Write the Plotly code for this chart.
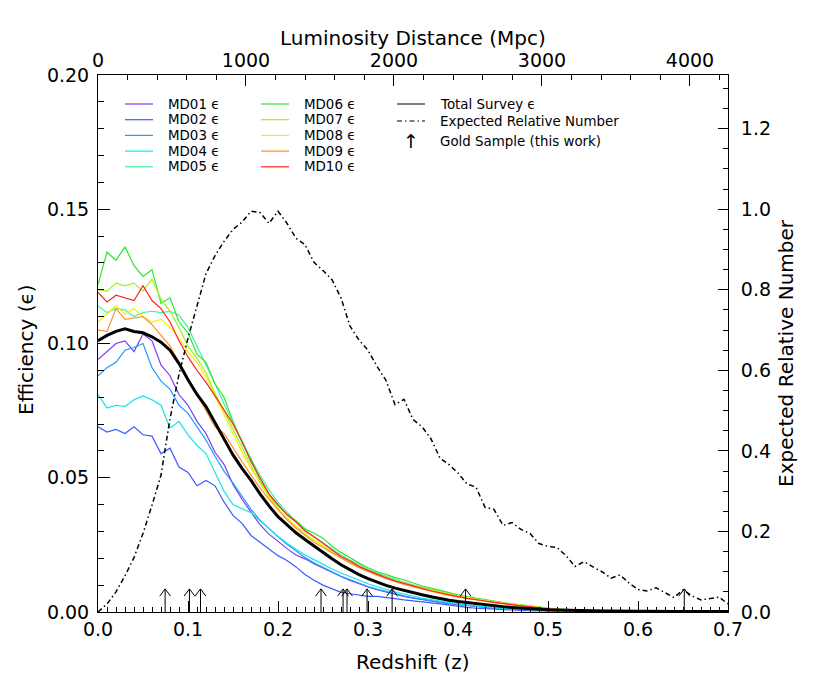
import numpy as np
import plotly.graph_objects as go

# ---------------- data ----------------
# redshift grid: 0.00 ... 0.70 in steps of 0.01
z = np.round(np.arange(71) * 0.01, 2)

md01 = [0.0940, 0.0970, 0.1000, 0.1010, 0.0970, 0.1035, 0.1010, 0.0920, 0.0880, 0.0810,
        0.0770, 0.0710, 0.0665, 0.0595, 0.0550, 0.0475, 0.0420, 0.0372, 0.0325, 0.0290,
        0.0262, 0.0236, 0.0212, 0.0198, 0.0180, 0.0163, 0.0147, 0.0132, 0.0118, 0.0104,
        0.0093, 0.0083, 0.0074, 0.0065, 0.0058, 0.0052, 0.0046, 0.0041, 0.0036, 0.0031,
        0.0027, 0.0023, 0.0020, 0.0017, 0.0014, 0.0012, 0.0010, 0.0008, 0.0007, 0.0006,
        0.0005, 0.0005, 0.0004, 0.0004, 0.0003, 0.0003, 0.0003, 0.0003, 0.0002, 0.0002,
        0.0002, 0.0002, 0.0002, 0.0002, 0.0001, 0.0001, 0.0001, 0.0001, 0.0001, 0.0001, 0.0001]
md02 = [0.0690, 0.0670, 0.0680, 0.0665, 0.0690, 0.0660, 0.0655, 0.0590, 0.0610, 0.0540,
        0.0520, 0.0470, 0.0490, 0.0470, 0.0410, 0.0360, 0.0330, 0.0285, 0.0260, 0.0235,
        0.0210, 0.0192, 0.0168, 0.0140, 0.0118, 0.0100, 0.0085, 0.0073, 0.0068, 0.0062,
        0.0058, 0.0058, 0.0055, 0.0050, 0.0045, 0.0042, 0.0037, 0.0034, 0.0030, 0.0025,
        0.0020, 0.0017, 0.0014, 0.0012, 0.0010, 0.0008, 0.0007, 0.0006, 0.0005, 0.0004,
        0.0004, 0.0003, 0.0003, 0.0003, 0.0002, 0.0002, 0.0002, 0.0002, 0.0002, 0.0001,
        0.0001, 0.0001, 0.0001, 0.0001, 0.0001, 0.0001, 0.0001, 0.0001, 0.0001, 0.0001, 0.0001]
md03 = [0.0880, 0.0910, 0.0930, 0.0975, 0.0985, 0.1000, 0.0910, 0.0860, 0.0830, 0.0770,
        0.0740, 0.0690, 0.0640, 0.0580, 0.0525, 0.0480, 0.0430, 0.0382, 0.0342, 0.0310,
        0.0280, 0.0252, 0.0226, 0.0203, 0.0183, 0.0165, 0.0150, 0.0133, 0.0120, 0.0106,
        0.0095, 0.0085, 0.0076, 0.0068, 0.0060, 0.0053, 0.0047, 0.0042, 0.0037, 0.0032,
        0.0028, 0.0024, 0.0021, 0.0018, 0.0015, 0.0013, 0.0011, 0.0009, 0.0008, 0.0007,
        0.0006, 0.0005, 0.0004, 0.0004, 0.0003, 0.0003, 0.0003, 0.0002, 0.0002, 0.0002,
        0.0002, 0.0002, 0.0001, 0.0001, 0.0001, 0.0001, 0.0001, 0.0001, 0.0001, 0.0001, 0.0001]
md04 = [0.0810, 0.0760, 0.0770, 0.0765, 0.0790, 0.0805, 0.0790, 0.0770, 0.0685, 0.0710,
        0.0660, 0.0620, 0.0590, 0.0520, 0.0450, 0.0400, 0.0385, 0.0370, 0.0340, 0.0310,
        0.0282, 0.0256, 0.0234, 0.0212, 0.0195, 0.0176, 0.0160, 0.0145, 0.0131, 0.0117,
        0.0105, 0.0094, 0.0084, 0.0075, 0.0067, 0.0059, 0.0052, 0.0046, 0.0040, 0.0035,
        0.0030, 0.0026, 0.0022, 0.0019, 0.0016, 0.0013, 0.0011, 0.0009, 0.0008, 0.0007,
        0.0006, 0.0005, 0.0005, 0.0004, 0.0004, 0.0003, 0.0003, 0.0003, 0.0002, 0.0002,
        0.0002, 0.0002, 0.0002, 0.0002, 0.0001, 0.0001, 0.0001, 0.0001, 0.0001, 0.0001, 0.0001]
md05 = [0.1140, 0.1115, 0.1130, 0.1125, 0.1100, 0.1115, 0.1120, 0.1115, 0.1120, 0.1105,
        0.1060, 0.0990, 0.0925, 0.0850, 0.0775, 0.0705, 0.0635, 0.0570, 0.0510, 0.0455,
        0.0408, 0.0370, 0.0336, 0.0306, 0.0280, 0.0258, 0.0234, 0.0212, 0.0194, 0.0175,
        0.0159, 0.0145, 0.0133, 0.0121, 0.0111, 0.0101, 0.0092, 0.0083, 0.0075, 0.0067,
        0.0060, 0.0054, 0.0048, 0.0043, 0.0038, 0.0033, 0.0029, 0.0025, 0.0021, 0.0017,
        0.0013, 0.0010, 0.0008, 0.0007, 0.0006, 0.0005, 0.0005, 0.0004, 0.0004, 0.0003,
        0.0003, 0.0003, 0.0002, 0.0002, 0.0002, 0.0002, 0.0002, 0.0002, 0.0002, 0.0002, 0.0002]
md06 = [0.1220, 0.1340, 0.1310, 0.1360, 0.1290, 0.1250, 0.1275, 0.1150, 0.1170, 0.1080,
        0.1040, 0.0960, 0.0930, 0.0850, 0.0800, 0.0710, 0.0630, 0.0570, 0.0490, 0.0435,
        0.0395, 0.0365, 0.0340, 0.0310, 0.0293, 0.0275, 0.0245, 0.0222, 0.0203, 0.0182,
        0.0165, 0.0150, 0.0140, 0.0128, 0.0120, 0.0107, 0.0097, 0.0089, 0.0080, 0.0071,
        0.0064, 0.0057, 0.0051, 0.0046, 0.0040, 0.0035, 0.0030, 0.0026, 0.0021, 0.0017,
        0.0013, 0.0011, 0.0009, 0.0008, 0.0007, 0.0006, 0.0006, 0.0005, 0.0004, 0.0004,
        0.0003, 0.0003, 0.0003, 0.0002, 0.0002, 0.0002, 0.0002, 0.0002, 0.0002, 0.0002, 0.0002]
md07 = [0.1200, 0.1195, 0.1225, 0.1215, 0.1225, 0.1195, 0.1240, 0.1165, 0.1120, 0.1060,
        0.0990, 0.0945, 0.0890, 0.0815, 0.0750, 0.0680, 0.0610, 0.0545, 0.0480, 0.0430,
        0.0382, 0.0348, 0.0318, 0.0290, 0.0268, 0.0245, 0.0222, 0.0202, 0.0185, 0.0166,
        0.0151, 0.0138, 0.0126, 0.0116, 0.0106, 0.0098, 0.0089, 0.0081, 0.0073, 0.0065,
        0.0058, 0.0052, 0.0047, 0.0042, 0.0037, 0.0032, 0.0028, 0.0024, 0.0020, 0.0016,
        0.0012, 0.0010, 0.0008, 0.0007, 0.0006, 0.0005, 0.0005, 0.0004, 0.0004, 0.0003,
        0.0003, 0.0003, 0.0003, 0.0002, 0.0002, 0.0002, 0.0002, 0.0002, 0.0002, 0.0002, 0.0002]
md08 = [0.1080, 0.1110, 0.1140, 0.1110, 0.1130, 0.1100, 0.1080, 0.1090, 0.1060, 0.1020,
        0.0970, 0.0930, 0.0875, 0.0805, 0.0735, 0.0660, 0.0595, 0.0535, 0.0480, 0.0430,
        0.0385, 0.0350, 0.0320, 0.0292, 0.0268, 0.0246, 0.0222, 0.0202, 0.0188, 0.0168,
        0.0152, 0.0140, 0.0127, 0.0117, 0.0107, 0.0098, 0.0090, 0.0082, 0.0074, 0.0066,
        0.0060, 0.0054, 0.0048, 0.0043, 0.0038, 0.0033, 0.0029, 0.0025, 0.0021, 0.0017,
        0.0013, 0.0010, 0.0008, 0.0007, 0.0006, 0.0005, 0.0005, 0.0004, 0.0004, 0.0003,
        0.0003, 0.0003, 0.0003, 0.0002, 0.0002, 0.0002, 0.0002, 0.0002, 0.0002, 0.0002, 0.0002]
md09 = [0.1050, 0.1045, 0.1130, 0.1090, 0.1095, 0.1100, 0.1070, 0.1030, 0.0990, 0.0930,
        0.0870, 0.0810, 0.0745, 0.0690, 0.0665, 0.0610, 0.0560, 0.0510, 0.0462, 0.0420,
        0.0380, 0.0343, 0.0312, 0.0285, 0.0260, 0.0240, 0.0220, 0.0200, 0.0182, 0.0165,
        0.0150, 0.0137, 0.0124, 0.0113, 0.0103, 0.0094, 0.0085, 0.0077, 0.0069, 0.0062,
        0.0056, 0.0050, 0.0045, 0.0040, 0.0035, 0.0031, 0.0027, 0.0023, 0.0019, 0.0016,
        0.0012, 0.0010, 0.0008, 0.0007, 0.0006, 0.0005, 0.0004, 0.0004, 0.0003, 0.0003,
        0.0003, 0.0003, 0.0002, 0.0002, 0.0002, 0.0002, 0.0002, 0.0002, 0.0002, 0.0002, 0.0002]
md10 = [0.1190, 0.1155, 0.1180, 0.1170, 0.1160, 0.1215, 0.1160, 0.1130, 0.1080, 0.1010,
        0.0950, 0.0900, 0.0855, 0.0805, 0.0750, 0.0700, 0.0635, 0.0560, 0.0500, 0.0440,
        0.0400, 0.0362, 0.0335, 0.0302, 0.0280, 0.0255, 0.0232, 0.0207, 0.0190, 0.0170,
        0.0155, 0.0140, 0.0128, 0.0116, 0.0106, 0.0096, 0.0088, 0.0079, 0.0071, 0.0064,
        0.0057, 0.0051, 0.0045, 0.0041, 0.0036, 0.0031, 0.0027, 0.0023, 0.0019, 0.0015,
        0.0012, 0.0009, 0.0008, 0.0006, 0.0006, 0.0005, 0.0004, 0.0004, 0.0004, 0.0003,
        0.0003, 0.0003, 0.0003, 0.0002, 0.0002, 0.0002, 0.0002, 0.0002, 0.0002, 0.0002, 0.0002]
total = [0.1010, 0.1030, 0.1045, 0.1055, 0.1045, 0.1040, 0.1025, 0.1005, 0.0975, 0.0925,
         0.0865, 0.0810, 0.0765, 0.0705, 0.0645, 0.0585, 0.0535, 0.0490, 0.0440, 0.0395,
         0.0355, 0.0325, 0.0295, 0.0270, 0.0245, 0.0222, 0.0198, 0.0176, 0.0156, 0.0139,
         0.0124, 0.0111, 0.0099, 0.0089, 0.0080, 0.0072, 0.0064, 0.0057, 0.0050, 0.0044,
         0.0039, 0.0035, 0.0030, 0.0026, 0.0023, 0.0020, 0.0017, 0.0014, 0.0012, 0.0010,
         0.0008, 0.0007, 0.0006, 0.0005, 0.0005, 0.0004, 0.0004, 0.0004, 0.0003, 0.0003,
         0.0003, 0.0003, 0.0002, 0.0002, 0.0002, 0.0002, 0.0002, 0.0002, 0.0002, 0.0002, 0.0002]
expected = [0.000, 0.020, 0.050, 0.090, 0.135, 0.195, 0.265, 0.340, 0.480, 0.590,
            0.680, 0.760, 0.840, 0.885, 0.920, 0.950, 0.968, 0.995, 0.992, 0.965,
            0.995, 0.965, 0.928, 0.912, 0.868, 0.848, 0.825, 0.780, 0.710, 0.675,
            0.650, 0.610, 0.575, 0.515, 0.528, 0.478, 0.460, 0.430, 0.382, 0.366,
            0.345, 0.318, 0.310, 0.260, 0.255, 0.215, 0.222, 0.205, 0.195, 0.170,
            0.163, 0.160, 0.140, 0.113, 0.125, 0.112, 0.100, 0.084, 0.092, 0.072,
            0.056, 0.052, 0.060, 0.048, 0.036, 0.055, 0.040, 0.030, 0.034, 0.037, 0.020]

# redshifts of the gold sample
gold_z = [0.0746, 0.1016, 0.1139, 0.2478, 0.2723, 0.2767, 0.2990, 0.3268, 0.4084, 0.6514]

names = ["MD01", "MD02", "MD03", "MD04", "MD05", "MD06", "MD07", "MD08", "MD09", "MD10"]
series = [md01, md02, md03, md04, md05, md06, md07, md08, md09, md10]
colors = ["#7a3cf0", "#3a5cff", "#1e9cff", "#14e6e6", "#3cf5a0",
          "#2ee62e", "#a2f01e", "#f0f000", "#ff9028", "#ff2424"]

FONT = "DejaVu Sans"

# ---------------- traces ----------------
fig = go.Figure()

for nome, vals, cor in zip(names, series, colors):
    fig.add_trace(go.Scatter(x=z, y=vals, mode="lines", name=nome + " ϵ",
                             line=dict(color=cor, width=1.2)))

fig.add_trace(go.Scatter(x=z, y=total, mode="lines", name="Total Survey ϵ",
                         line=dict(color="black", width=3)))

fig.add_trace(go.Scatter(x=z, y=expected, mode="lines", name="Expected Relative Number",
                         yaxis="y2",
                         line=dict(color="black", width=1.5, dash="5px,3px,1.5px,3px")))

# gold sample arrows (stem + open head)
ARROW_H, HEAD_DX, HEAD_DY = 0.0086, 0.006, 0.0027
ax, ay = [], []
for zg in gold_z:
    ax += [zg, zg, None, zg - HEAD_DX, zg, zg + HEAD_DX, None]
    ay += [0, ARROW_H, None, ARROW_H - HEAD_DY, ARROW_H, ARROW_H - HEAD_DY, None]
fig.add_trace(go.Scatter(x=ax, y=ay, mode="lines", name="Gold Sample (this work)",
                         line=dict(color="black", width=1), cliponaxis=False))

# empty trace so the luminosity-distance axis exists
fig.add_trace(go.Scatter(x=[0], y=[None], xaxis="x2", showlegend=False, hoverinfo="skip"))

# ---------------- axes ----------------
eixo = dict(showline=True, linecolor="black", linewidth=1, ticks="inside",
            tickcolor="black", showgrid=False, zeroline=False,
            tickfont=dict(family=FONT, size=19, color="black"))

# the page adds an 8 px body margin, so the figure is 8 px smaller and shifted
fig.update_layout(
    width=822, height=684,
    margin=dict(l=90, r=102, t=67, b=80),
    paper_bgcolor="white", plot_bgcolor="white",
    showlegend=False,
    xaxis=dict(range=[0, 0.7], tick0=0, dtick=0.1, tickformat=".1f", ticklen=11,
               minor=dict(dtick=0.01, ticklen=5, ticks="inside", tickcolor="black"),
               **eixo),
    xaxis2=dict(range=[0, 4257], overlaying="x", side="top", anchor="y",
                tick0=0, dtick=1000, tickformat="d", ticklen=11,
                ticklabelstandoff=-1,
                minor=dict(dtick=200, ticklen=5, ticks="inside", tickcolor="black"),
                **eixo),
    yaxis=dict(range=[0, 0.2], tick0=0, dtick=0.05, tickformat=".2f", ticklen=12,
               ticklabelstandoff=4,
               minor=dict(dtick=0.01, ticklen=6, ticks="inside", tickcolor="black"),
               **eixo),
    yaxis2=dict(range=[0, 0.2 / 0.15], overlaying="y", side="right", anchor="x",
                tick0=0, dtick=0.2, tickformat=".1f", ticklen=10,
                ticklabelstandoff=8,
                minor=dict(dtick=0.05, ticklen=5, ticks="inside", tickcolor="black"),
                **eixo),
)


def paper(px, py):
    # page pixel position -> paper coordinates of the plot area
    return (px - 98) / 630, (612 - py) / 537


# ---------------- axis titles ----------------
titulo = dict(family=FONT, size=20, color="black")
anot = []
x0, y0 = paper(413, 38)
anot.append(dict(text="Luminosity Distance (Mpc)", x=x0, y=y0, font=titulo))
x0, y0 = paper(413, 662)
anot.append(dict(text="Redshift (z)", x=x0, y=y0, font=titulo))
x0, y0 = paper(26, 350)
anot.append(dict(text="Efficiency (ϵ)", x=x0, y=y0, textangle=-90, font=titulo))
x0, y0 = paper(786, 353)
anot.append(dict(text="Expected Relative Number", x=x0, y=y0, textangle=-90, font=titulo))

# ---------------- legend (drawn by hand) ----------------
leg_font = dict(family=FONT, size=13.4, color="black")
ROW = 15.7
formas = []
colunas = [(125, 153, 166), (261, 289, 302)]
for c, (lx0, lx1, tx) in enumerate(colunas):
    for k in range(5):
        i = c * 5 + k
        py = 104 + ROW * k
        a0, b0 = paper(lx0, py)
        a1, _ = paper(lx1, py)
        formas.append(dict(type="line", xref="paper", yref="paper", x0=a0, x1=a1, y0=b0, y1=b0,
                           line=dict(color=colors[i], width=1.2)))
        t0, _ = paper(tx, py)
        anot.append(dict(text=names[i] + " ϵ", x=t0, y=b0, xanchor="left", font=leg_font))

a0, b0 = paper(397, 104)
a1, _ = paper(425, 104)
formas.append(dict(type="line", xref="paper", yref="paper", x0=a0, x1=a1, y0=b0, y1=b0,
                   line=dict(color="black", width=1)))
t0, _ = paper(438, 104)
anot.append(dict(text="Total Survey ϵ", x=t0, y=b0, xanchor="left", font=leg_font))

a0, b0 = paper(397, 121)
a1, _ = paper(425, 121)
formas.append(dict(type="line", xref="paper", yref="paper", x0=a0, x1=a1, y0=b0, y1=b0,
                   line=dict(color="black", width=1.2, dash="5px,3px,1.5px,3px")))
anot.append(dict(text="Expected Relative Number", x=t0, y=b0, xanchor="left", font=leg_font))

a0, b0 = paper(411, 141)
anot.append(dict(text="↑", x=a0, y=b0, font=dict(family=FONT, size=19, color="black")))
anot.append(dict(text="Gold Sample (this work)", x=t0, y=b0, xanchor="left", font=leg_font))

for a in anot:
    a.setdefault("xanchor", "center")
    a.update(xref="paper", yref="paper", yanchor="middle", showarrow=False)

fig.update_layout(annotations=anot, shapes=formas)

fig.write_html("out.html")
